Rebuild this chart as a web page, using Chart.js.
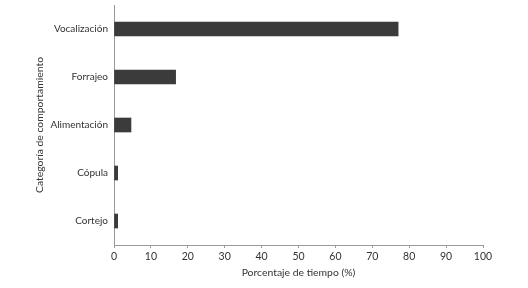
<!DOCTYPE html>
<html>
<head>
<meta charset="utf-8">
<script src="https://cdn.jsdelivr.net/npm/chart.js@4"></script>
<style>
html,body{margin:0;padding:0;background:#fff;}
#wrap{width:528px;height:288px;}
</style>
</head>
<body>
<div id="wrap"><canvas id="c" width="528" height="288"></canvas></div>
<script>
const categories = ["Vocalización", "Forrajeo", "Alimentación", "Cópula", "Cortejo"];
const values = [77, 16.7, 4.6, 1.0, 1.0];
const xTicks = [0, 10, 20, 30, 40, 50, 60, 70, 80, 90, 100];
const xTitle = "Porcentaje de tiempo (%)";
const yTitle = "Categoría de comportamiento";

const FONT = "Lato, 'Open Sans', sans-serif";
const TEXT = "#333333";

new Chart(document.getElementById('c'), {
  type: 'bar',
  data: {
    labels: categories,
    datasets: [{
      data: values,
      backgroundColor: '#3b3b3b',
      borderWidth: 0,
      barThickness: 14
    }]
  },
  options: {
    indexAxis: 'y',
    responsive: false,
    animation: false,
    devicePixelRatio: 1,
    layout: { padding: { left: 29, right: 45, top: 5, bottom: 5 } },
    plugins: { legend: { display: false }, tooltip: { enabled: false } },
    scales: {
      x: {
        min: 0, max: 100,
        afterBuildTicks: s => { s.ticks = xTicks.map(v => ({ value: v })); },
        afterFit: s => { s.height = 38; s.paddingLeft = 0; s.paddingRight = 0; },
        grid: { drawOnChartArea: false, drawTicks: true, tickLength: 3, color: '#999999' },
        border: { display: true, color: '#999999', width: 1 },
        ticks: { padding: 2, color: TEXT, font: { family: FONT, size: 10.5 }, maxRotation: 0 },
        title: { display: true, text: xTitle, color: TEXT, font: { family: FONT, size: 10.4 }, padding: { top: 4, bottom: 4 } }
      },
      y: {
        afterFit: s => { s.width = 85; s.paddingTop = 0; s.paddingBottom = 0; },
        grid: { drawOnChartArea: false, drawTicks: false, color: '#999999' },
        border: { display: true, color: '#999999', width: 1 },
        ticks: { padding: 6, color: TEXT, font: { family: FONT, size: 10 } },
        title: { display: true, text: yTitle, color: TEXT, font: { family: FONT, size: 10.4 }, padding: { top: 4, bottom: 4 } }
      }
    }
  }
});
</script>
</body>
</html>
